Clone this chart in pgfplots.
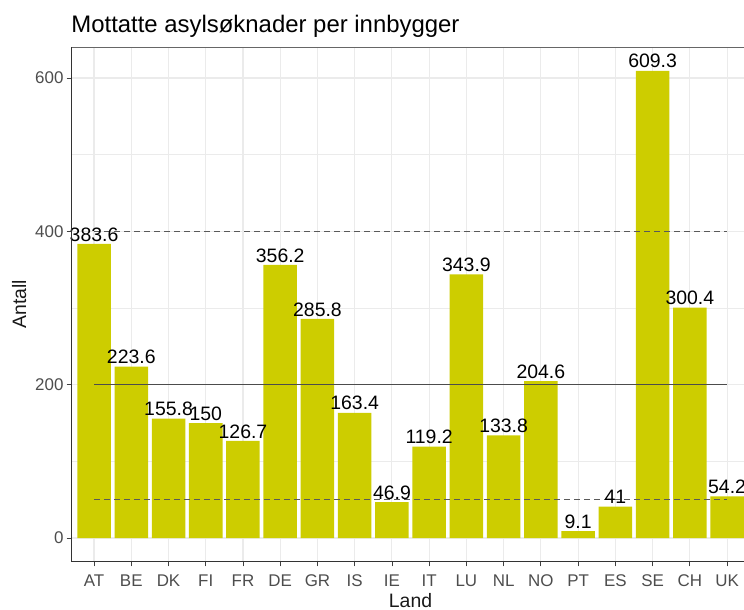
\documentclass[border=0pt]{standalone}
\usepackage{pgfplots}
\pgfplotsset{compat=1.18}
\usepackage{fontspec}
\setmainfont{Liberation Sans}
\definecolor{barfill}{HTML}{CDCD00}
\definecolor{tickgray}{HTML}{4D4D4D}
\definecolor{gridgray}{HTML}{EBEBEB}
\begin{document}
\begin{tikzpicture}
\begin{axis}[
    name=ax, at={(0,0)}, anchor=south west,
    scale only axis, width=677.7bp, height=513.9bp,
    xmin=-0.6, xmax=17.6, ymin=-30.465, ymax=639.8,
    /pgf/number format/assume math mode=true,
    xtick={0,...,17},
    xticklabels={AT,BE,DK,FI,FR,DE,GR,IS,IE,IT,LU,NL,NO,PT,ES,SE,CH,UK},
    ytick={0,200,400,600},
    minor ytick={100,300,500},
    grid=both,
    major grid style={gridgray, line width=1.1bp},
    minor grid style={gridgray, line width=0.6bp},
    tick align=outside, tick pos=left,
    major tick length=5bp, minor tick length=0pt,
    tick style={black!75, line width=0.8bp},
    axis line style={black!60, line width=1bp},
    tick label style={font=\fontsize{17}{17}\selectfont, text=tickgray},
    yticklabel style={inner sep=0pt, xshift=-3bp},
    xticklabel style={inner sep=0pt, yshift=-8bp},
]
\addplot[ybar, bar width=0.9, fill=barfill, draw=none,
    nodes near coords, point meta=explicit symbolic,
    every node near coord/.append style={font=\fontsize{19.5}{19.5}\selectfont,
        text=black, anchor=south, inner sep=2.5bp}]
coordinates {
    (0,383.6) [383.6]
    (1,223.6) [223.6]
    (2,155.8) [155.8]
    (3,150) [150]
    (4,126.7) [126.7]
    (5,356.2) [356.2]
    (6,285.8) [285.8]
    (7,163.4) [163.4]
    (8,46.9) [46.9]
    (9,119.2) [119.2]
    (10,343.9) [343.9]
    (11,133.8) [133.8]
    (12,204.6) [204.6]
    (13,9.1) [9.1]
    (14,41) [41]
    (15,609.3) [609.3]
    (16,300.4) [300.4]
    (17,54.2) [54.2]
};
% reference lines
\addplot[black!65, line width=0.8bp, dash pattern=on 6bp off 4bp] coordinates {(0,50) (17,50)};
\addplot[black!70, line width=0.8bp] coordinates {(0,200) (17,200)};
\addplot[black!65, line width=0.8bp, dash pattern=on 6bp off 4bp] coordinates {(0,400) (17,400)};
\end{axis}
\draw[black!80, line width=0.8bp] (ax.north west) -- (ax.south west) -- (ax.south east);
\node[anchor=base west, inner sep=0pt, font=\fontsize{24}{24}\selectfont] at ([xshift=-0.5bp,yshift=14.5bp]ax.north west) {Mottatte asylsøknader per innbygger};
\node[rotate=90, anchor=base, font=\fontsize{19.5}{19.5}\selectfont, text=black!90] at ([xshift=-45.7bp]ax.west) {Antall};
\node[anchor=base, font=\fontsize{19.5}{19.5}\selectfont, text=black!90] at ([yshift=-45.6bp]ax.south) {Land};
\pgfresetboundingbox
\path[use as bounding box] ([xshift=-71.7bp,yshift=-48.6bp]ax.south west) rectangle ([xshift=672.3bp,yshift=47.5bp]ax.north west);
\end{tikzpicture}
\end{document}
